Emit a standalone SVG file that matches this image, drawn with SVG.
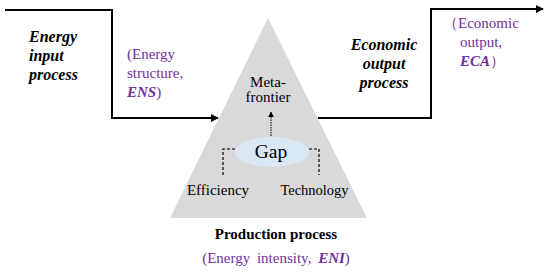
<svg xmlns="http://www.w3.org/2000/svg" width="550" height="275" viewBox="0 0 550 275">
<style>
text{font-family:"Liberation Serif","Times New Roman",serif;fill:#000}
.bi{font-weight:bold;font-style:italic;font-size:16px}
.p{fill:#7030A0;font-size:15px}
.line{fill:none;stroke:#000;stroke-width:2}
.dash{fill:none;stroke:#000;stroke-width:1.2;stroke-dasharray:3 2}
</style>
<defs>
<marker id="ah" viewBox="0 0 10 10" refX="9" refY="5" markerWidth="4" markerHeight="4" orient="auto" markerUnits="strokeWidth">
<path d="M0,0 L10,5 L0,10 z" fill="#000"/>
</marker>
<marker id="ahs" viewBox="0 0 10 10" refX="9" refY="5" markerWidth="6" markerHeight="6" orient="auto" markerUnits="strokeWidth">
<path d="M0,0 L10,5 L0,10 z" fill="#000"/>
</marker>
</defs>
<g id="production">
<polygon points="268,18 170,218 367,218" fill="#D9D9D9"/>
<text x="268" y="87" text-anchor="middle" font-size="15">Meta-</text>
<text x="268" y="102" text-anchor="middle" font-size="15">frontier</text>
<text x="276" y="239" text-anchor="middle" font-weight="bold" font-size="15">Production process</text>
<text x="276" y="263" text-anchor="middle" class="p" word-spacing="3">(Energy intensity, <tspan font-style="italic" font-weight="bold">ENI</tspan>)</text>
</g>
<g id="gap">
<ellipse cx="272" cy="152" rx="37" ry="15" fill="#DAE8F5"/>
<text x="271" y="158" text-anchor="middle" font-size="19.5">Gap</text>
</g>
<g id="efficiency">
<text x="218" y="195" text-anchor="middle" font-size="15">Efficiency</text>
</g>
<g id="technology">
<text x="314.5" y="195" text-anchor="middle" font-size="14.5">Technology</text>
</g>
<g id="input">
<text class="bi" x="29" y="42">Energy</text>
<text class="bi" x="29" y="61">input</text>
<text class="bi" x="29" y="80">process</text>
<text class="p" x="127" y="59">(Energy</text>
<text class="p" x="127" y="78">structure,</text>
<text class="p" x="127" y="97"><tspan font-style="italic" font-weight="bold">ENS</tspan>)</text>
</g>
<g id="output">
<text class="bi" x="384" y="50" text-anchor="middle">Economic</text>
<text class="bi" x="384" y="69" text-anchor="middle">output</text>
<text class="bi" x="384" y="88" text-anchor="middle">process</text>
<text class="p" x="443" y="28">（Economic</text>
<text class="p" x="460" y="47">output,</text>
<text class="p" x="460" y="66"><tspan font-style="italic" font-weight="bold">ECA</tspan>）</text>
</g>
<g id="connectors">
<polyline class="line" points="5,10 112,10 112,118 218,118" marker-end="url(#ah)"/>
<polyline class="line" points="318,118 431,118 431,9 543,9" marker-end="url(#ah)"/>
<line x1="271" y1="136" x2="271" y2="112" stroke="#000" stroke-width="1" stroke-dasharray="1.5 1" marker-end="url(#ahs)"/>
<polyline class="dash" points="235,149 223,149 223,175"/>
<polyline class="dash" points="309,149 319,149 319,175"/>
</g>
</svg>
